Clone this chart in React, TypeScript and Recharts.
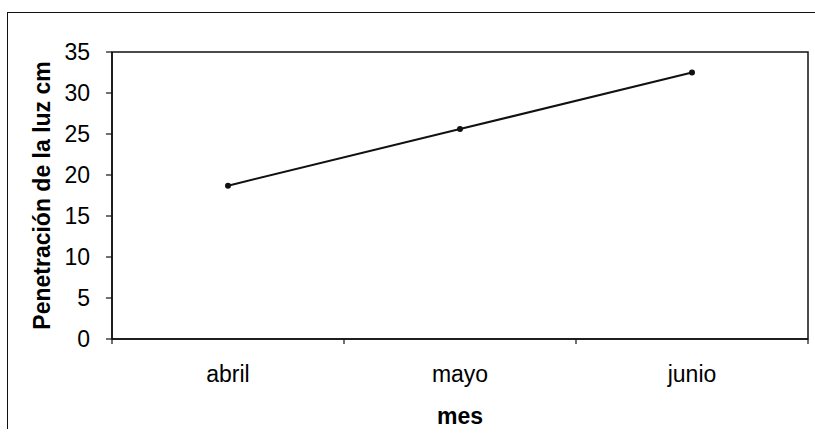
import { LineChart, Line, XAxis, YAxis, ReferenceArea, Label } from "recharts";

// light penetration (cm) per month
const months = ["abril", "mayo", "junio"];
const penetration = [18.7, 25.6, 32.5];
const yTicks = [0, 5, 10, 15, 20, 25, 30, 35];

// months sit in the middle of each category slot, like a spreadsheet chart
const data = months.map((mes, i) => ({ mes, pos: i + 0.5, cm: penetration[i] }));
const xTicks = [0, 0.5, 1, 1.5, 2, 2.5, 3];

const FONT = "'Liberation Sans', Arial, sans-serif";
const INK = "#111";

function MonthTick(props: any) {
  const { x, y, payload } = props;
  const v = payload.value as number;
  if (Number.isInteger(v)) {
    // divider mark between categories
    return <line x1={x} y1={y} x2={x} y2={y + 5} stroke={INK} strokeWidth={1.2} />;
  }
  return (
    <text x={x} y={y + 43} textAnchor="middle" fontFamily={FONT} fontSize={23} fill="#000">
      {months[Math.floor(v)]}
    </text>
  );
}

function YTitle(props: any) {
  const vb = props.viewBox;
  const cx = 50;
  const cy = vb.y + vb.height / 2;
  return (
    <text
      x={cx}
      y={cy}
      transform={`rotate(-90, ${cx}, ${cy})`}
      textAnchor="middle"
      fontFamily={FONT}
      fontWeight="bold"
      fontSize={23}
      fill="#000"
    >
      Penetración de la luz cm
    </text>
  );
}

export default function App() {
  return (
    <div style={{ position: "fixed", left: 0, top: 0, width: 815, height: 444, background: "#fff" }}>
      <div
        style={{
          position: "absolute",
          left: 7,
          top: 12,
          width: 808,
          height: 416,
          borderTop: `1px solid ${INK}`,
          borderLeft: `1px solid ${INK}`,
        }}
      />
      <div style={{ position: "absolute", left: 0, top: 0 }}>
        <LineChart
          width={815}
          height={444}
          data={data}
          margin={{ top: 52, right: 7, bottom: 0, left: 0 }}
        >
          <ReferenceArea
            x1={0}
            x2={3}
            y1={0}
            y2={35}
            fill="none"
            stroke={INK}
            strokeWidth={1.5}
            ifOverflow="visible"
          />
          <XAxis
            dataKey="pos"
            type="number"
            domain={[0, 3]}
            ticks={xTicks}
            interval={0}
            tick={<MonthTick />}
            tickLine={false}
            tickSize={0}
            tickMargin={0}
            axisLine={{ stroke: INK, strokeWidth: 1.5 }}
            height={105}
          >
            <Label
              value="mes"
              position="insideBottom"
              offset={20}
              style={{ fontFamily: FONT, fontSize: 23, fontWeight: "bold", fill: "#000" }}
            />
          </XAxis>
          <YAxis
            domain={[0, 35]}
            ticks={yTicks}
            interval={0}
            width={112}
            tickSize={6}
            tickMargin={16}
            tick={{ fontFamily: FONT, fontSize: 23, fill: "#000" }}
            tickLine={{ stroke: INK, strokeWidth: 1.2 }}
            axisLine={{ stroke: INK, strokeWidth: 1.5 }}
          >
            <Label content={<YTitle />} />
          </YAxis>
          <Line
            type="linear"
            dataKey="cm"
            stroke={INK}
            strokeWidth={2}
            dot={{ r: 2, fill: INK, stroke: INK }}
            isAnimationActive={false}
          />
        </LineChart>
      </div>
    </div>
  );
}
